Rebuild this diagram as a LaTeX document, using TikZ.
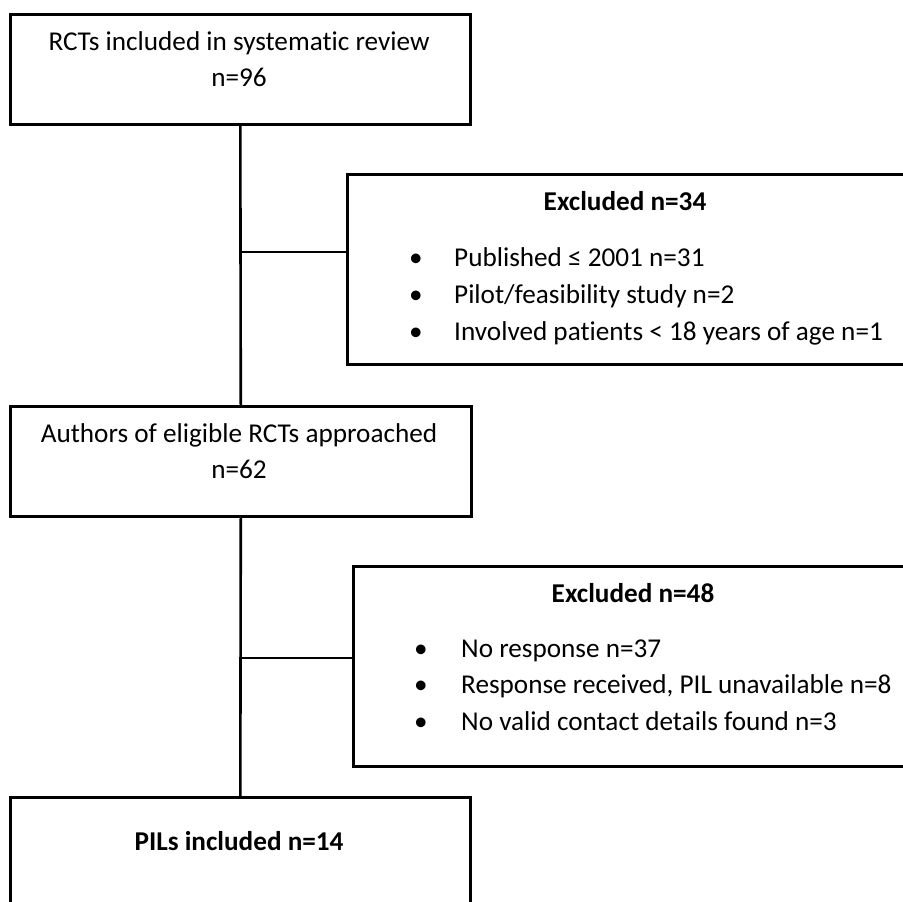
\documentclass[tikz,border=0pt]{standalone}
\usepackage{fontspec}
\setmainfont[Ligatures=NoCommon]{Carlito}
\begin{document}
\begin{tikzpicture}[x=1pt,y=-1pt,
  box/.style={draw=black,line width=2.6pt,anchor=north west,inner sep=0pt},
  txt/.style={font=\fontsize{27.2}{33}\selectfont,inner sep=0pt,anchor=base},
  btxt/.style={font=\fontsize{27.2}{33}\selectfont\bfseries,inner sep=0pt,anchor=base},
  ltxt/.style={font=\fontsize{27.2}{33}\selectfont,inner sep=0pt,anchor=base west},
  bul/.style={font=\fontsize{27.2}{33}\selectfont,inner sep=0pt,anchor=base},
  link/.style={draw=black,line width=2.6pt}]
\clip (0,0) rectangle (903,902);
\fill[white] (0,0) rectangle (903,902);
% main boxes
\node[box,minimum width=460pt,minimum height=110pt] (b1) at (9,13) {};
\node[box,minimum width=461pt,minimum height=110pt] (b2) at (9,405) {};
\node[box,minimum width=460pt,minimum height=140pt] (b3) at (9,796) {};
% exclusion boxes
\node[box,minimum width=558pt,minimum height=190pt] (e1) at (346,173) {};
\node[box,minimum width=562pt,minimum height=200pt] (e2) at (352,565) {};
% texts
\node[txt] (t1a) at (239,50) {RCTs included in systematic review};
\node[txt] (t1b) at (239,86) {n=96};
\node[txt] (t2a) at (239,442) {Authors of eligible RCTs approached};
\node[txt] (t2b) at (239,478) {n=62};
\node[btxt] (t3) at (239,850) {PILs included n=14};
\node[btxt] (e1t) at (625,210) {Excluded n=34};
\node[bul] (e1b1) at (416,266) {\textbullet};
\node[bul] (e1b2) at (416,303) {\textbullet};
\node[bul] (e1b3) at (416,340) {\textbullet};
\node[ltxt] (e1l1) at (454,266) {Published ≤ 2001 n=31};
\node[ltxt] (e1l2) at (454,303) {Pilot/feasibility study n=2};
\node[ltxt] (e1l3) at (454,340) {Involved patients < 18 years of age n=1};
\node[btxt] (e2t) at (633,602) {Excluded n=48};
\node[bul] (e2b1) at (421,657) {\textbullet};
\node[bul] (e2b2) at (421,693) {\textbullet};
\node[bul] (e2b3) at (421,730) {\textbullet};
\node[ltxt] (e2l1) at (461,657) {No response n=37};
\node[ltxt] (e2l2) at (461,693) {Response received, PIL unavailable n=8};
\node[ltxt] (e2l3) at (461,730) {No valid contact details found n=3};
% connectors
\coordinate (j1) at (239,252);
\coordinate (j2) at (239,658);
\draw[link] (b1.south) -- (b2.north);
\draw[link] (b2.south) -- (b3.north);
\draw[link] (j1) -- (j1 -| e1.west);
\draw[link] (j2) -- (j2 -| e2.west);
\end{tikzpicture}
\end{document}
